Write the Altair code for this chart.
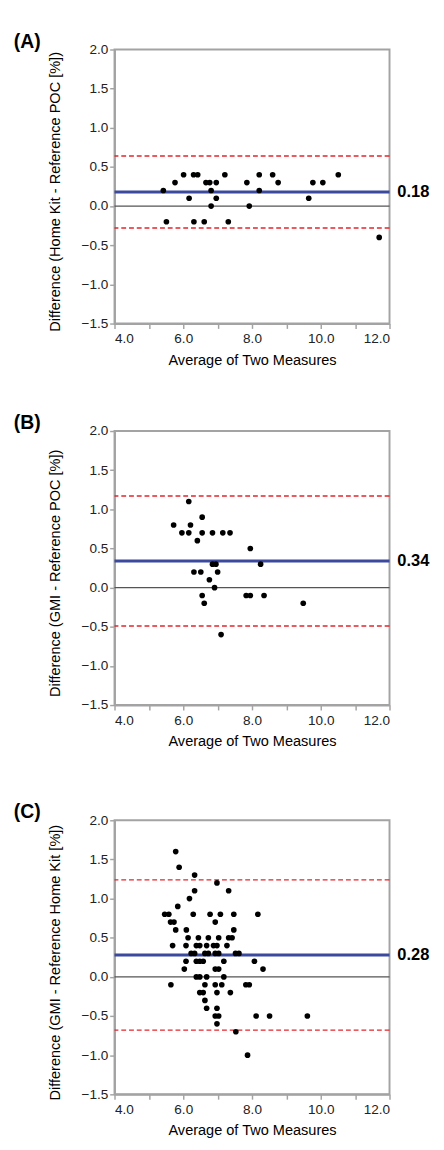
import altair as alt
import pandas as pd

# ---------------- data ----------------
A_avg = [5.42, 5.51, 5.76, 6.01, 6.17, 6.30, 6.31, 6.42, 6.61, 6.66, 6.77, 6.81, 6.81, 6.96,
         6.96, 7.21, 7.31, 7.85, 7.92, 8.21, 8.21, 8.60, 8.76, 9.65, 9.77, 10.06, 10.51, 11.70]
A_diff = [0.2, -0.2, 0.3, 0.4, 0.1, 0.4, -0.2, 0.4, -0.2, 0.3, 0.3, 0.2, 0.0, 0.3,
          0.1, 0.4, -0.2, 0.3, 0.0, 0.4, 0.2, 0.4, 0.3, 0.1, 0.3, 0.3, 0.4, -0.4]

B_avg = [5.72, 5.96, 6.16, 6.16, 6.21, 6.31, 6.41, 6.51, 6.55, 6.55, 6.55, 6.61, 6.76, 6.85,
         6.85, 6.91, 6.95, 7.00, 7.10, 7.15, 7.36, 7.83, 7.95, 7.95, 8.25, 8.35, 9.49]
B_diff = [0.8, 0.7, 1.1, 0.7, 0.8, 0.2, 0.6, 0.2, 0.9, 0.7, -0.1, -0.2, 0.1, 0.7,
          0.3, 0.0, 0.3, 0.2, -0.6, 0.7, 0.7, -0.1, 0.5, -0.1, 0.3, -0.1, -0.2]

C_avg = [5.78, 5.88, 6.33, 6.98, 6.33, 7.32, 6.18, 5.84,
         5.46, 5.58, 6.29, 6.78, 7.08, 7.47, 8.17,
         5.63, 5.73, 6.93,
         5.78, 6.09, 7.47,
         6.14, 6.44, 6.73, 7.03, 7.32, 7.42,
         5.69, 6.08, 6.38, 6.48, 6.68, 6.88, 6.98, 7.27,
         6.23, 6.33, 6.63, 6.73, 6.93, 7.03, 7.52, 7.62,
         6.08, 6.38, 6.48, 6.58, 7.18, 8.07,
         6.03, 6.93, 7.03, 8.32,
         6.38, 6.48, 6.68, 7.18,
         5.64, 6.63, 6.93, 7.12, 7.82, 7.92,
         6.48, 6.58, 6.98, 7.37,
         6.63,
         6.68, 6.98,
         6.93, 7.03, 8.12, 8.51, 9.61,
         6.98,
         7.53,
         7.87]
C_diff = [1.6, 1.4, 1.3, 1.2, 1.1, 1.1, 1.0, 0.9,
          0.8, 0.8, 0.8, 0.8, 0.8, 0.8, 0.8,
          0.7, 0.7, 0.7,
          0.6, 0.6, 0.6,
          0.5, 0.5, 0.5, 0.5, 0.5, 0.5,
          0.4, 0.4, 0.4, 0.4, 0.4, 0.4, 0.4, 0.4,
          0.3, 0.3, 0.3, 0.3, 0.3, 0.3, 0.3, 0.3,
          0.2, 0.2, 0.2, 0.2, 0.2, 0.2,
          0.1, 0.1, 0.1, 0.1,
          0.0, 0.0, 0.0, 0.0,
          -0.1, -0.1, -0.1, -0.1, -0.1, -0.1,
          -0.2, -0.2, -0.2, -0.2,
          -0.3,
          -0.4, -0.4,
          -0.5, -0.5, -0.5, -0.5, -0.5,
          -0.6,
          -0.7,
          -1.0]

panel_labels = ["(A)", "(B)", "(C)"]
y_titles = ["Difference (Home Kit - Reference POC [%])",
            "Difference (GMI - Reference POC [%])",
            "Difference (GMI - Reference Home Kit [%])"]
means = [0.18, 0.34, 0.28]
upper_loa = [0.64, 1.17, 1.24]
lower_loa = [-0.28, -0.49, -0.68]
x_title = "Average of Two Measures"
x_ticks = [4, 5, 6, 7, 8, 9, 10, 11, 12]
y_ticks = [-1.5, -1.0, -0.5, 0.0, 0.5, 1.0, 1.5, 2.0]

# ---------------- style ----------------
W, H = 284, 283
FONT = "Liberation Sans"
GRAY = "#a3a3a3"
BLUE = "#3b4a9e"
RED = "#e3242b"


def panel(avg, diff, label, ytitle, mean, up, lo):
    df = pd.DataFrame({"avg": avg, "diff": diff})
    xs = alt.Scale(domain=[4, 12], nice=False, zero=False)
    ys = alt.Scale(domain=[-1.5, 2.0], nice=False, zero=False)
    xaxis = alt.Axis(values=x_ticks, labelExpr="datum.value % 2 == 0 ? format(datum.value, '.1f') : ''",
                     title=x_title, grid=False, titleY=37, titleBaseline="middle",
                     labelPadding=4)
    yaxis = alt.Axis(values=y_ticks, format=".1f", title=ytitle, grid=False,
                     titleX=-62, titleY=H / 2 + 5, titleBaseline="middle", titleAngle=-90)

    pts = alt.Chart(df).mark_circle(size=34, color="black", opacity=1).encode(
        x=alt.X("avg:Q", scale=xs, axis=xaxis),
        y=alt.Y("diff:Q", scale=ys, axis=yaxis),
    )
    lines_df = pd.DataFrame({"y": [0.0]})
    zero = alt.Chart(lines_df).mark_rule(color="#555555", strokeWidth=1.2).encode(
        y=alt.Y("y:Q", scale=ys))
    loa_df = pd.DataFrame({"y": [up, lo]})
    loa = alt.Chart(loa_df).mark_rule(color=RED, strokeWidth=1.4, strokeDash=[5, 3]).encode(
        y=alt.Y("y:Q", scale=ys))
    mean_df = pd.DataFrame({"y": [mean], "t": [f"{mean:.2f}"]})
    mline = alt.Chart(mean_df).mark_rule(color=BLUE, strokeWidth=3).encode(
        y=alt.Y("y:Q", scale=ys))
    mtext = alt.Chart(mean_df).mark_text(align="left", baseline="middle", font=FONT,
                                         fontWeight="bold", fontSize=17, color="black").encode(
        x=alt.value(W + 8), y=alt.Y("y:Q", scale=ys), text="t:N")
    lab_df = pd.DataFrame({"t": [label]})
    lab = alt.Chart(lab_df).mark_text(align="left", baseline="alphabetic", font=FONT,
                                      fontWeight="bold", fontSize=20, color="black").encode(
        x=alt.value(-104), y=alt.value(-2), text="t:N")
    return alt.layer(zero, loa, mline, pts, mtext, lab).properties(width=W, height=H)


pA = panel(A_avg, A_diff, panel_labels[0], y_titles[0], means[0], upper_loa[0], lower_loa[0])
pB = panel(B_avg, B_diff, panel_labels[1], y_titles[1], means[1], upper_loa[1], lower_loa[1])
pC = panel(C_avg, C_diff, panel_labels[2], y_titles[2], means[2], upper_loa[2], lower_loa[2])

chart = alt.vconcat(alt.vconcat(pA, pB, spacing=46), pC, spacing=54).properties(
    padding=5
).configure_axis(
    labelFont=FONT, titleFont=FONT, labelFontSize=14, titleFontSize=15,
    labelColor="#222222", titleColor="black", titleFontWeight="normal",
    domainColor=GRAY, domainWidth=2, tickColor=GRAY, tickWidth=1.5, tickSize=5,
).configure_view(stroke=GRAY, strokeWidth=2)

chart.save("out.html", embed_options={"renderer": "svg", "actions": False})
